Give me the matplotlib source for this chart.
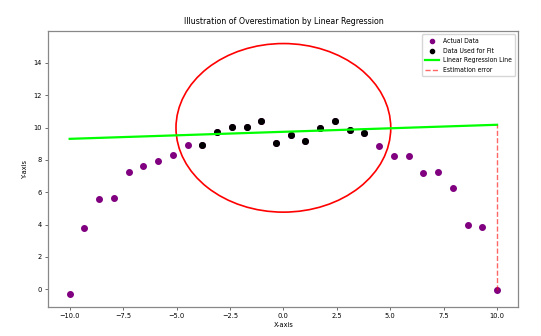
import numpy as np
import matplotlib
matplotlib.use('Agg')
import matplotlib.pyplot as plt
from matplotlib.patches import Ellipse

plt.rcParams['font.family'] = ['DejaVu Sans']
plt.rcParams['font.stretch'] = 'condensed'

# 30 samples evenly spaced on [-10, 10]
x = np.linspace(-10, 10, 30)
y = np.array([-0.30, 3.78, 5.60, 5.66, 7.28, 7.60, 7.90, 8.33, 8.89,
              8.89, 9.75, 10.06, 10.02, 10.41, 9.07, 9.53, 9.18, 9.96,
              10.43, 9.83, 9.69,
              8.85, 8.25, 8.27, 7.20, 7.24, 6.28, 3.97, 3.85, -0.06])

# middle section used for the fit
fit_idx = np.arange(9, 21)
x_fit = x[fit_idx]
y_fit = y[fit_idx]

slope, intercept = np.polyfit(x_fit, y_fit, 1)
x_line = np.array([x.min(), x.max()])
y_line = slope * x_line + intercept

fig = plt.figure(figsize=(5.41, 3.36), dpi=100)
ax = fig.add_axes([0.0893, 0.0872, 0.869, 0.8205])

ax.scatter(x, y, color='purple', s=16, label='Actual Data')
ax.scatter(x_fit, y_fit, color='black', s=16, label='Data Used for Fit')
ax.plot(x_line, y_line, color='lime', lw=1.6, label='Linear Regression Line')
ax.plot([x[-1], x[-1]], [y[-1], y_line[-1]], color='red', ls='--', lw=1.0,
        alpha=0.6, label='Estimation error')

ax.add_patch(Ellipse((0, 9.98), 10.05, 10.42, fill=False, edgecolor='red', lw=1.2))
ax.autoscale_view()

ax.set_title('Illustration of Overestimation by Linear Regression', fontsize=6.3, pad=5)
ax.set_xlabel('X-axis', fontsize=5.3, labelpad=2)
ax.set_ylabel('Y-axis', fontsize=5.3, labelpad=4)
ax.tick_params(labelsize=5.3, length=2.5, width=0.6, pad=2, color='#555555')
for s in ax.spines.values():
    s.set_color('#888888')
    s.set_linewidth(0.9)

ax.legend(loc='upper right', fontsize=4.9, markerscale=0.75, handlelength=2.0,
          labelspacing=0.55, borderpad=0.5, handletextpad=0.6)

fig.savefig('out.png', dpi=100)
